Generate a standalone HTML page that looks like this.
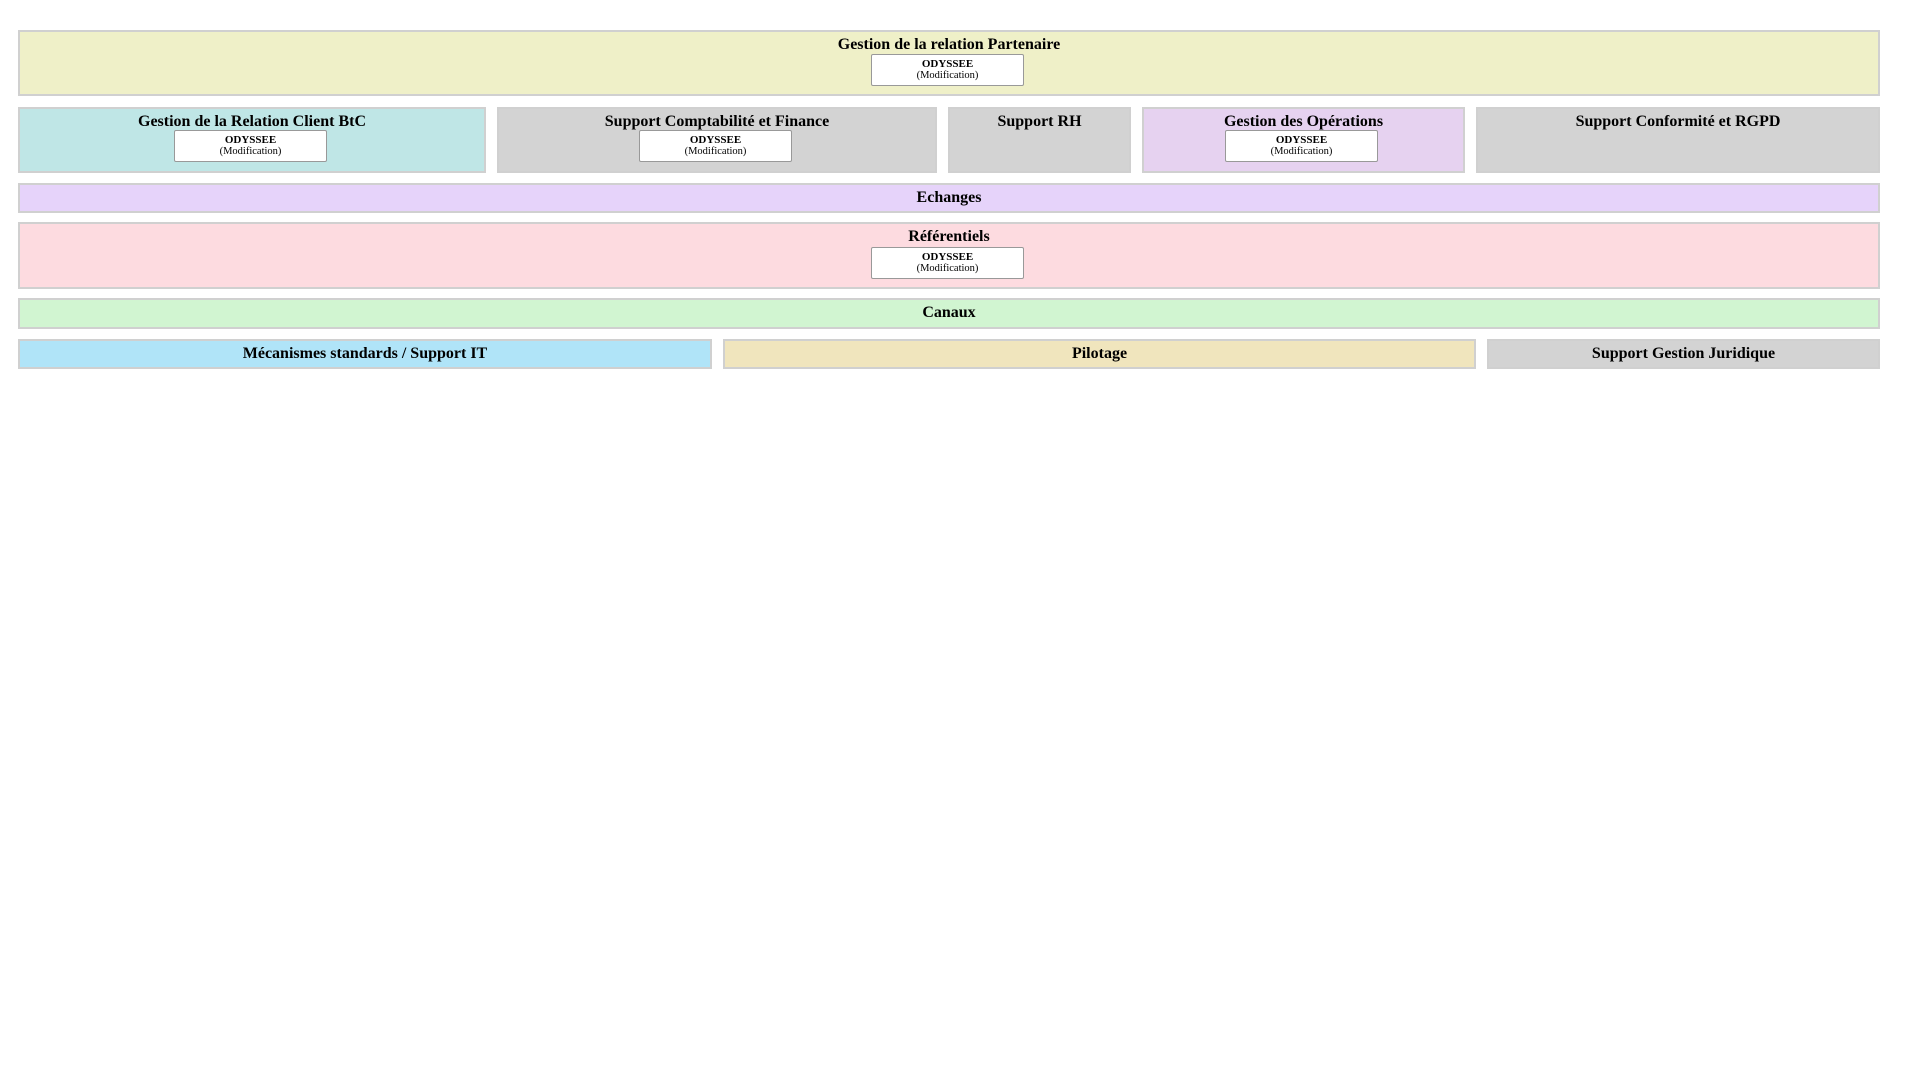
<!DOCTYPE html>
<html><head><meta charset="utf-8"><style>
body{margin:0;width:1920px;height:1080px;background:#fff;position:relative;font-family:"Liberation Serif",serif;}
.b{position:absolute;box-sizing:border-box;border:2px solid #d0d0d0;text-align:center;font-weight:bold;font-size:16px;color:#000;}
.t{position:absolute;left:0;right:0;top:4px;}
.c{line-height:26px;}
.o{position:absolute;box-sizing:border-box;background:#fff;border:1px solid #999;border-radius:2px;text-align:center;font-size:11px;line-height:12px;padding-top:3px;}
.o b{display:block}.o span{display:block;font-weight:normal;font-size:10.5px}
</style></head><body>
<div class="b" style="left:18px;top:30px;width:1862px;height:66px;background:#eff0c8"><div class="t">Gestion de la relation Partenaire</div></div>
<div class="o" style="left:871px;top:54px;width:153px;height:32px"><b>ODYSSEE</b><span>(Modification)</span></div>

<div class="b" style="left:18px;top:107px;width:468px;height:66px;background:#bfe6e6"><div class="t">Gestion de la Relation Client BtC</div></div>
<div class="o" style="left:174px;top:130px;width:153px;height:32px"><b>ODYSSEE</b><span>(Modification)</span></div>
<div class="b" style="left:497px;top:107px;width:440px;height:66px;background:#d3d3d3"><div class="t">Support Comptabilité et Finance</div></div>
<div class="o" style="left:639px;top:130px;width:153px;height:32px"><b>ODYSSEE</b><span>(Modification)</span></div>
<div class="b" style="left:948px;top:107px;width:183px;height:66px;background:#d3d3d3"><div class="t">Support RH</div></div>
<div class="b" style="left:1142px;top:107px;width:323px;height:66px;background:#e6d2f0"><div class="t">Gestion des Opérations</div></div>
<div class="o" style="left:1225px;top:130px;width:153px;height:32px"><b>ODYSSEE</b><span>(Modification)</span></div>
<div class="b" style="left:1476px;top:107px;width:404px;height:66px;background:#d3d3d3"><div class="t">Support Conformité et RGPD</div></div>

<div class="b c" style="left:18px;top:183px;width:1862px;height:30px;background:#e6d3fa">Echanges</div>

<div class="b" style="left:18px;top:222px;width:1862px;height:67px;background:#fddbe0"><div class="t">Référentiels</div></div>
<div class="o" style="left:871px;top:247px;width:153px;height:32px"><b>ODYSSEE</b><span>(Modification)</span></div>

<div class="b c" style="left:18px;top:298px;width:1862px;height:31px;background:#d1f5d1">Canaux</div>

<div class="b c" style="left:18px;top:339px;width:694px;height:30px;background:#b0e4f8">Mécanismes standards / Support IT</div>
<div class="b c" style="left:723px;top:339px;width:753px;height:30px;background:#f0e5bd">Pilotage</div>
<div class="b c" style="left:1487px;top:339px;width:393px;height:30px;background:#d3d3d3">Support Gestion Juridique</div>
</body></html>
